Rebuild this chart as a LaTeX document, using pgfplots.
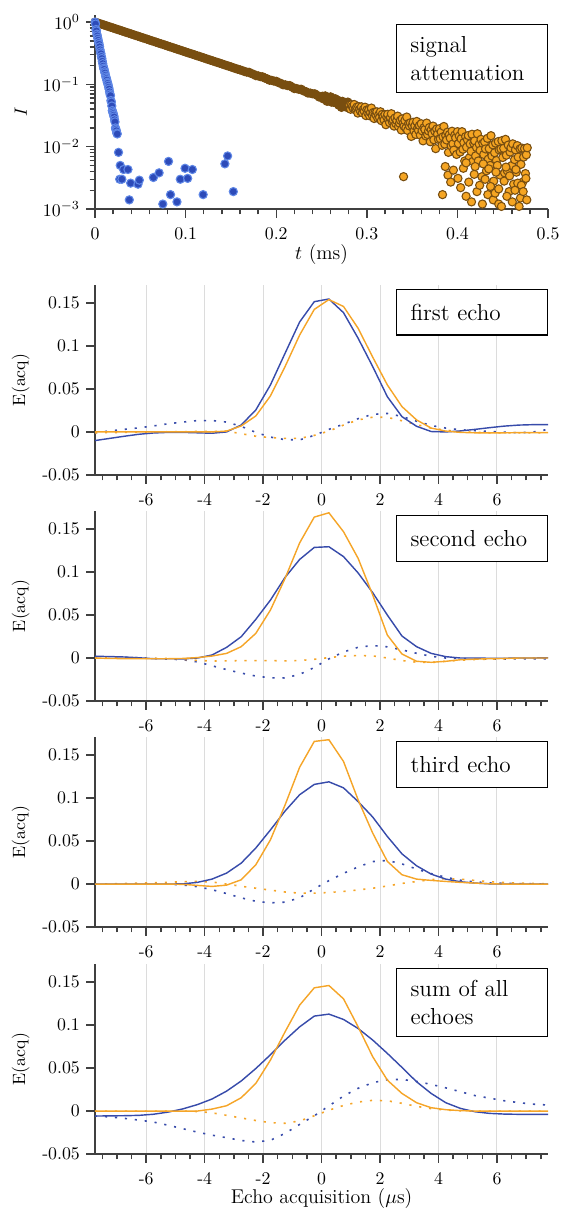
\documentclass[border=0pt]{standalone}
\usepackage{pgfplots}
\pgfplotsset{compat=1.18}
\usepackage{pgfplotstable}

\definecolor{axgray}{RGB}{64,64,64}
\definecolor{gridgray}{RGB}{220,220,220}
\definecolor{lblue}{RGB}{55,75,170}
\definecolor{lorange}{RGB}{245,165,40}
\definecolor{sbluefill}{RGB}{45,75,185}
\definecolor{sblueedge}{RGB}{95,135,230}
\definecolor{sorangefill}{RGB}{245,165,35}
\definecolor{sorangeedge}{RGB}{120,78,16}

\pgfplotstableread{
x B O Bd Od
-7.75 -0.0100 0.0000 -0.0010 -0.0010
-7.25 -0.0075 0.0000 0.0012 -0.0008
-6.75 -0.0050 0.0000 0.0030 -0.0005
-6.25 -0.0027 0.0000 0.0048 -0.0003
-5.75 -0.0012 0.0000 0.0070 0.0000
-5.25 -0.0005 0.0000 0.0095 0.0002
-4.75 -0.0005 0.0000 0.0115 0.0003
-4.25 -0.0010 0.0000 0.0132 0.0005
-3.75 -0.0015 0.0000 0.0133 0.0005
-3.25 0.0000 0.0010 0.0115 0.0010
-2.75 0.0081 0.0070 0.0065 -0.0020
-2.25 0.0256 0.0186 -0.0005 -0.0050
-1.75 0.0547 0.0419 -0.0060 -0.0065
-1.25 0.0915 0.0760 -0.0090 -0.0075
-0.75 0.1280 0.1128 -0.0092 -0.0075
-0.25 0.1516 0.1426 -0.0040 -0.0040
0.25 0.1547 0.1540 0.0030 0.0010
0.75 0.1388 0.1460 0.0090 0.0080
1.25 0.1090 0.1206 0.0155 0.0140
1.75 0.0760 0.0870 0.0205 0.0172
2.25 0.0410 0.0547 0.0215 0.0170
2.75 0.0178 0.0295 0.0180 0.0130
3.25 0.0066 0.0140 0.0125 0.0085
3.75 0.0005 0.0045 0.0075 0.0045
4.25 0.0000 0.0010 0.0045 0.0020
4.75 0.0012 -0.0005 0.0025 0.0005
5.25 0.0030 -0.0010 0.0015 -0.0005
5.75 0.0050 -0.0010 0.0005 -0.0010
6.25 0.0068 -0.0010 -0.0003 -0.0010
6.75 0.0080 -0.0008 -0.0010 -0.0010
7.25 0.0085 -0.0008 0.0000 -0.0010
7.75 0.0085 -0.0008 0.0030 -0.0010
}\firstecho

\pgfplotstableread{
x B O Bd Od
-7.75 0.0020 0.0000 0.0016 0.0000
-7.25 0.0017 -0.0005 0.0012 0.0000
-6.75 0.0012 -0.0007 0.0008 0.0000
-6.25 0.0003 -0.0008 0.0002 -0.0002
-5.75 -0.0008 -0.0008 -0.0005 -0.0003
-5.25 -0.0008 -0.0008 -0.0012 -0.0005
-4.75 -0.0010 -0.0005 -0.0020 -0.0015
-4.25 0.0000 0.0005 -0.0045 -0.0028
-3.75 0.0035 0.0023 -0.0090 -0.0035
-3.25 0.0124 0.0054 -0.0135 -0.0033
-2.75 0.0248 0.0132 -0.0175 -0.0030
-2.25 0.0450 0.0287 -0.0210 -0.0030
-1.75 0.0674 0.0558 -0.0230 -0.0030
-1.25 0.0938 0.0926 -0.0232 -0.0033
-0.75 0.1147 0.1340 -0.0190 -0.0030
-0.25 0.1287 0.1640 -0.0110 -0.0015
0.25 0.1295 0.1690 -0.0010 0.0005
0.75 0.1180 0.1470 0.0070 0.0022
1.25 0.0990 0.1160 0.0125 0.0029
1.75 0.0760 0.0733 0.0145 0.0025
2.25 0.0500 0.0267 0.0130 0.0000
2.75 0.0256 0.0047 0.0095 -0.0030
3.25 0.0132 -0.0038 0.0055 -0.0048
3.75 0.0054 -0.0050 0.0020 -0.0052
4.25 0.0016 -0.0038 0.0000 -0.0038
4.75 0.0000 -0.0020 -0.0005 -0.0025
5.25 0.0000 -0.0013 -0.0010 -0.0018
5.75 -0.0003 -0.0008 -0.0012 -0.0012
6.25 -0.0003 -0.0005 -0.0012 -0.0008
6.75 0.0000 0.0000 -0.0010 -0.0005
7.25 0.0000 0.0000 -0.0010 -0.0003
7.75 0.0003 0.0000 -0.0008 0.0000
}\secondecho

\pgfplotstableread{
x B O Bd Od
-7.75 0.0000 0.0000 0.0000 0.0000
-7.25 0.0000 0.0000 0.0000 0.0004
-6.75 0.0000 0.0000 0.0000 0.0008
-6.25 0.0000 0.0000 0.0000 0.0010
-5.75 0.0000 0.0000 0.0000 0.0015
-5.25 0.0000 0.0000 0.0000 0.0020
-4.75 0.0003 -0.0003 -0.0010 0.0028
-4.25 0.0020 -0.0015 -0.0030 0.0031
-3.75 0.0058 -0.0027 -0.0065 0.0025
-3.25 0.0128 -0.0012 -0.0110 0.0000
-2.75 0.0244 0.0050 -0.0160 -0.0025
-2.25 0.0420 0.0225 -0.0200 -0.0048
-1.75 0.0630 0.0515 -0.0218 -0.0070
-1.25 0.0850 0.0920 -0.0210 -0.0092
-0.75 0.1040 0.1360 -0.0160 -0.0105
-0.25 0.1160 0.1660 -0.0055 -0.0105
0.25 0.1190 0.1680 0.0040 -0.0098
0.75 0.1120 0.1427 0.0125 -0.0085
1.25 0.0960 0.0980 0.0200 -0.0068
1.75 0.0780 0.0593 0.0262 -0.0048
2.25 0.0554 0.0264 0.0275 -0.0022
2.75 0.0352 0.0109 0.0235 0.0008
3.25 0.0213 0.0058 0.0175 0.0030
3.75 0.0116 0.0043 0.0122 0.0052
4.25 0.0058 0.0031 0.0080 0.0062
4.75 0.0027 0.0020 0.0045 0.0058
5.25 0.0012 0.0012 0.0025 0.0042
5.75 0.0003 0.0004 0.0015 0.0028
6.25 0.0000 0.0000 0.0010 0.0018
6.75 0.0000 0.0000 0.0006 0.0012
7.25 0.0000 0.0000 0.0003 0.0008
7.75 0.0000 0.0000 0.0002 0.0005
}\thirdecho

\pgfplotstableread{
x B O Bd Od
-7.75 -0.0058 0.0000 -0.0058 0.0000
-7.25 -0.0056 0.0000 -0.0068 0.0000
-6.75 -0.0054 0.0000 -0.0085 0.0000
-6.25 -0.0050 0.0000 -0.0105 0.0000
-5.75 -0.0037 0.0000 -0.0128 0.0000
-5.25 -0.0012 0.0000 -0.0165 0.0000
-4.75 0.0025 0.0000 -0.0205 0.0000
-4.25 0.0075 0.0000 -0.0245 -0.0005
-3.75 0.0140 0.0023 -0.0280 -0.0020
-3.25 0.0232 0.0062 -0.0310 -0.0050
-2.75 0.0350 0.0155 -0.0342 -0.0080
-2.25 0.0495 0.0322 -0.0360 -0.0110
-1.75 0.0655 0.0593 -0.0340 -0.0135
-1.25 0.0825 0.0922 -0.0260 -0.0142
-0.75 0.0980 0.1233 -0.0155 -0.0115
-0.25 0.1105 0.1434 -0.0055 -0.0055
0.25 0.1128 0.1461 0.0060 0.0010
0.75 0.1066 0.1306 0.0175 0.0065
1.25 0.0961 0.0980 0.0265 0.0105
1.75 0.0826 0.0632 0.0330 0.0125
2.25 0.0671 0.0360 0.0365 0.0120
2.75 0.0508 0.0205 0.0368 0.0090
3.25 0.0341 0.0097 0.0345 0.0055
3.75 0.0205 0.0039 0.0310 0.0028
4.25 0.0097 0.0016 0.0270 0.0012
4.75 0.0031 0.0005 0.0225 0.0004
5.25 -0.0008 0.0000 0.0180 0.0000
5.75 -0.0027 0.0000 0.0150 0.0000
6.25 -0.0035 0.0000 0.0120 0.0000
6.75 -0.0038 0.0000 0.0098 0.0000
7.25 -0.0039 0.0000 0.0080 0.0000
7.75 -0.0039 0.0000 0.0070 0.0000
}\sumecho

\pgfplotsset{
  base/.style={
    scale only axis, width=254.5pt,
    axis lines*=left,
    axis line style={-, draw=axgray, line width=1pt},
    tick style={draw=axgray, line width=0.8pt},
    tick align=outside,
    major tick length=5pt, minor tick length=3pt,
    xticklabel style={yshift=-2pt},
    ylabel style={at={(axis description cs:-0.164,0.5)}, anchor=center},
    xlabel style={font=\fontsize{11.2}{13}\selectfont},
  },
  echo/.style={
    base, height=106.7pt,
    xmin=-7.75, xmax=7.75, ymin=-0.05, ymax=0.171,
    xtick={-6,-4,-2,0,2,4,6}, xticklabels={-6,-4,-2,0,2,4,6},
    minor xtick={-7.5,-7,...,7.5},
    ytick={-0.05,0,0.05,0.1,0.15}, yticklabels={-0.05,0,0.05,0.1,0.15},
    xmajorgrids, major grid style={draw=gridgray, line width=0.6pt},
    ylabel={E(acq)},
  },
  sB/.style={draw=lblue, line width=0.8pt, no marks},
  sO/.style={draw=lorange, line width=0.8pt, no marks},
  dB/.style={draw=lblue, line width=0.9pt, no marks, dash pattern=on 1.2pt off 4.4pt},
  dO/.style={draw=lorange, line width=0.9pt, no marks, dash pattern=on 1.2pt off 4.4pt},
}
\tikzset{
  tag/.style={draw=black, line width=0.8pt, fill=white, anchor=north east,
    font=\fontsize{13}{15.7}\selectfont, align=left, text width=69pt,
    inner xsep=7.9pt, inner ysep=5pt, minimum height=25.8pt},
}

\begin{document}
\begin{tikzpicture}
\useasboundingbox (-53.4pt,-32.0pt) rectangle (261.8pt,648.3pt);

% ---------- signal attenuation ----------
\begin{axis}[base, at={(0pt,530.9pt)}, anchor=south west, height=109pt,
  ymode=log, xmin=0, xmax=0.5, ymin=1e-3, ymax=1.3,
  xtick={0,0.1,0.2,0.3,0.4,0.5},
  xticklabels={0,0.1,0.2,0.3,0.4,0.5},
  minor xtick={0,0.02,...,0.5},
  ytick={1e-3,1e-2,1e-1,1},
  xlabel={$t$ (ms)}, ylabel={$I$},
  xlabel style={at={(axis description cs:0.5,-0.237)}, anchor=center},
  clip mode=individual]
% dense early part of the slow decay: overlapping markers merge into a brown band
\addplot[only marks, mark=*, mark size=2.3pt,
  mark options={fill=sorangeedge, draw=sorangeedge, line width=0.6pt}] table {
t I
0 1.000
0.0025 0.973
0.005 0.946
0.0075 0.920
0.01 0.895
0.0125 0.871
0.015 0.847
0.0175 0.824
0.02 0.802
0.0225 0.780
0.025 0.759
0.0275 0.738
0.03 0.718
0.0325 0.698
0.035 0.679
0.0375 0.661
0.04 0.643
0.0425 0.625
0.045 0.608
0.0475 0.592
0.05 0.575
0.0525 0.560
0.055 0.545
0.0575 0.530
0.06 0.515
0.0625 0.501
0.065 0.488
0.0675 0.474
0.07 0.461
0.0725 0.449
0.075 0.437
0.0775 0.425
0.08 0.413
0.0825 0.402
0.085 0.391
0.0875 0.380
0.09 0.370
0.0925 0.360
0.095 0.350
0.0975 0.340
0.1 0.331
0.1025 0.322
0.105 0.313
0.1075 0.305
0.11 0.297
0.1125 0.288
0.115 0.281
0.1175 0.273
0.12 0.266
0.1225 0.258
0.125 0.251
0.1275 0.244
0.13 0.238
0.1325 0.231
0.135 0.225
0.1375 0.219
0.14 0.213
0.1425 0.207
0.145 0.201
0.1475 0.196
0.15 0.191
0.1525 0.185
0.155 0.180
0.1575 0.175
0.16 0.171
0.1625 0.166
0.165 0.161
0.1675 0.157
0.17 0.156
0.1725 0.149
0.175 0.145
0.1775 0.138
0.18 0.137
0.1825 0.133
0.185 0.132
0.1875 0.126
0.19 0.1225
0.1925 0.1165
0.195 0.1159
0.1975 0.1127
0.2 0.1120
0.2025 0.1067
0.205 0.1038
0.2075 0.0985
0.21 0.0982
0.2125 0.0955
0.215 0.0955
0.2175 0.0904
0.22 0.0855
0.2225 0.0855
0.225 0.0832
0.2275 0.0835
0.23 0.0787
0.2325 0.0766
0.235 0.0725
0.2375 0.0725
0.24 0.0705
0.2425 0.0705
0.245 0.0667
0.2475 0.0625
0.25 0.0631
0.251 0.0645
0.252 0.0584
0.253 0.0618
0.254 0.0653
0.255 0.0586
0.256 0.0535
0.257 0.0615
0.258 0.0591
0.259 0.0552
0.260 0.0630
0.261 0.0518
0.262 0.0555
0.263 0.0573
0.264 0.0511
0.265 0.0589
0.266 0.0523
0.267 0.0508
0.268 0.0556
0.269 0.0463
0.270 0.0515
0.271 0.0520
0.272 0.0427
0.273 0.0534
0.274 0.0482
0.275 0.0508
0.276 0.0447
0.277 0.0480
0.278 0.0426
0.279 0.0519
0.280 0.0440
};
\addplot[only marks, mark=*, mark size=2.3pt,
  mark options={fill=sorangefill, draw=sorangeedge, line width=0.6pt}] table {
t I
0.281 0.0463
0.282 0.0399
0.283 0.0473
0.284 0.0439
0.285 0.0410
0.286 0.0475
0.287 0.0391
0.288 0.0407
0.289 0.0433
0.290 0.0346
0.291 0.0441
0.292 0.0397
0.293 0.0369
0.294 0.0436
0.295 0.0350
0.296 0.0394
0.297 0.0372
0.298 0.0430
0.299 0.0315
0.300 0.0389
0.301 0.0349
0.302 0.0387
0.303 0.0313
0.304 0.0354
0.305 0.0416
0.306 0.0317
0.307 0.0353
0.308 0.0283
0.309 0.0353
0.310 0.0324
0.311 0.0363
0.312 0.0287
0.313 0.0323
0.314 0.0293
0.315 0.0363
0.316 0.0261
0.317 0.0330
0.318 0.0301
0.319 0.0268
0.320 0.0327
0.321 0.0225
0.322 0.0297
0.323 0.0331
0.324 0.0270
0.325 0.0243
0.326 0.0293
0.327 0.0338
0.328 0.0252
0.329 0.0268
0.330 0.0214
0.331 0.0289
0.332 0.0234
0.333 0.0263
0.334 0.0309
0.335 0.0211
0.336 0.0239
0.337 0.0265
0.338 0.0185
0.339 0.0279
0.340 0.0235
0.3405 0.0033
0.341 0.0213
0.342 0.0263
0.343 0.0199
0.344 0.0299
0.345 0.0182
0.346 0.0235
0.347 0.0215
0.348 0.0241
0.349 0.0146
0.350 0.0218
0.351 0.0246
0.352 0.0180
0.353 0.0215
0.354 0.0157
0.355 0.0254
0.356 0.0198
0.357 0.0183
0.358 0.0219
0.359 0.0153
0.360 0.0233
0.361 0.0180
0.362 0.0124
0.363 0.0202
0.364 0.0189
0.365 0.0149
0.366 0.0239
0.367 0.0157
0.368 0.0179
0.369 0.0203
0.370 0.0120
0.371 0.0186
0.372 0.0161
0.373 0.0214
0.374 0.0129
0.375 0.0177
0.376 0.0093
0.377 0.0192
0.378 0.0159
0.379 0.0131
0.380 0.0194
0.381 0.0134
0.382 0.0172
0.383 0.0105
0.3835 0.0017
0.384 0.0144
0.385 0.0211
0.386 0.0110
0.387 0.0151
0.388 0.0128
0.389 0.0171
0.390 0.0081
0.391 0.0156
0.392 0.0137
0.393 0.0103
0.394 0.0177
0.395 0.0111
0.396 0.0088
0.397 0.0153
0.398 0.0138
0.399 0.0075
0.400 0.0174
0.401 0.0112
0.402 0.0148
0.403 0.0082
0.404 0.0134
0.405 0.0174
0.406 0.0091
0.407 0.0116
0.408 0.0059
0.409 0.0145
0.410 0.0098
0.411 0.0129
0.412 0.0151
0.413 0.0066
0.414 0.0111
0.415 0.0084
0.416 0.0158
0.417 0.0058
0.418 0.0113
0.419 0.0124
0.420 0.0071
0.421 0.0097
0.422 0.0161
0.423 0.0059
0.424 0.0110
0.425 0.0087
0.426 0.0131
0.427 0.0033
0.428 0.0113
0.429 0.0075
0.430 0.0119
0.431 0.0092
0.432 0.0041
0.433 0.0136
0.434 0.0063
0.435 0.0093
0.436 0.0050
0.437 0.0150
0.438 0.0071
0.439 0.0107
0.440 0.0028
0.441 0.0080
0.442 0.0114
0.443 0.0060
0.444 0.0050
0.445 0.0121
0.446 0.0089
0.447 0.0035
0.448 0.0092
0.449 0.0125
0.450 0.0067
0.451 0.0094
0.452 0.0038
0.453 0.0131
0.454 0.0073
0.455 0.0041
0.456 0.0106
0.457 0.0019
0.458 0.0082
0.459 0.0096
0.460 0.0050
0.461 0.0111
0.462 0.0025
0.463 0.0062
0.464 0.0089
0.465 0.0039
0.466 0.0104
0.467 0.0068
0.468 0.0011
0.469 0.0092
0.470 0.0052
0.471 0.0095
0.472 0.0027
0.473 0.0068
0.474 0.0093
0.475 0.0037
0.476 0.0074
0.477 0.0096
0.3865 0.0048
0.3895 0.0035
0.3925 0.0027
0.3955 0.0042
0.4005 0.0031
0.4035 0.0022
0.4065 0.0045
0.4095 0.0016
0.4095 0.0055
0.4125 0.0027
0.4155 0.0013
0.4185 0.0036
0.4195 0.0048
0.4215 0.0019
0.4245 0.0024
0.4275 0.0012
0.4285 0.0053
0.4305 0.0030
0.4335 0.0017
0.4345 0.0044
0.4365 0.0023
0.4395 0.0014
0.4415 0.0018
0.4425 0.0039
0.4455 0.0021
0.4455 0.0012
0.4485 0.0011
0.4515 0.0028
0.4535 0.0047
0.4545 0.0016
0.4575 0.0034
0.4605 0.0013
0.4635 0.0020
0.4645 0.0043
0.4665 0.0026
0.4695 0.0015
0.4705 0.0024
0.4725 0.0019
0.4755 0.0031
0.4765 0.0014
};
\addplot[only marks, mark=*, mark size=2.3pt,
  mark options={fill=sbluefill, draw=sblueedge, line width=0.6pt}] table {
t I
0 1.00
0.0005 0.93
0.001 0.76
0.0015 0.72
0.002 0.64
0.0025 0.60
0.003 0.55
0.0035 0.51
0.004 0.47
0.0045 0.44
0.005 0.40
0.0055 0.36
0.006 0.33
0.0065 0.31
0.007 0.28
0.0075 0.26
0.008 0.235
0.0085 0.215
0.009 0.196
0.0095 0.182
0.010 0.174
0.0105 0.160
0.011 0.152
0.0115 0.140
0.012 0.131
0.0125 0.124
0.013 0.117
0.0135 0.108
0.014 0.104
0.0145 0.097
0.015 0.090
0.0155 0.084
0.016 0.076
0.0165 0.070
0.017 0.066
0.0175 0.055
0.018 0.052
0.0185 0.045
0.019 0.038
0.0195 0.036
0.020 0.034
0.0205 0.032
0.021 0.030
0.0215 0.027
0.022 0.025
0.0225 0.020
0.023 0.019
0.0235 0.018
0.024 0.0165
0.0245 0.016
0.0259 0.0081
0.0272 0.0030
0.0278 0.0050
0.0296 0.0030
0.0315 0.0043
0.0363 0.0043
0.0378 0.0014
0.0393 0.0026
0.0474 0.0025
0.0489 0.0029
0.0644 0.0032
0.0707 0.0038
0.0748 0.0012
0.0811 0.0058
0.0833 0.0017
0.0904 0.0013
0.0941 0.0030
0.0993 0.0045
0.1022 0.0031
0.1074 0.0043
0.1193 0.0017
0.1433 0.0053
0.1463 0.0071
0.1526 0.0019
};
\node[tag, yshift=-5pt, minimum height=38.2pt] at (rel axis cs:1,1) {signal\\attenuation};
\end{axis}

% ---------- first echo ----------
\begin{axis}[echo, at={(0pt,381.5pt)}, anchor=south west]
\addplot[dB] table[x=x,y=Bd] {\firstecho};
\addplot[dO] table[x=x,y=Od] {\firstecho};
\addplot[sB] table[x=x,y=B] {\firstecho};
\addplot[sO] table[x=x,y=O] {\firstecho};
\node[tag, yshift=-2pt] at (rel axis cs:1,1) {first echo};
\end{axis}

% ---------- second echo ----------
\begin{axis}[echo, at={(0pt,254.5pt)}, anchor=south west]
\addplot[dB] table[x=x,y=Bd] {\secondecho};
\addplot[dO] table[x=x,y=Od] {\secondecho};
\addplot[sB] table[x=x,y=B] {\secondecho};
\addplot[sO] table[x=x,y=O] {\secondecho};
\node[tag, yshift=-2pt] at (rel axis cs:1,1) {second echo};
\end{axis}

% ---------- third echo ----------
\begin{axis}[echo, at={(0pt,127.5pt)}, anchor=south west]
\addplot[dB] table[x=x,y=Bd] {\thirdecho};
\addplot[dO] table[x=x,y=Od] {\thirdecho};
\addplot[sB] table[x=x,y=B] {\thirdecho};
\addplot[sO] table[x=x,y=O] {\thirdecho};
\node[tag, yshift=-2pt] at (rel axis cs:1,1) {third echo};
\end{axis}

% ---------- sum of all echoes ----------
\begin{axis}[echo, at={(0pt,0pt)}, anchor=south west,
  xlabel={Echo acquisition ($\mu$s)},
  xlabel style={at={(axis description cs:0.5,-0.232)}, anchor=center}]
\addplot[dB] table[x=x,y=Bd] {\sumecho};
\addplot[dO] table[x=x,y=Od] {\sumecho};
\addplot[sB] table[x=x,y=B] {\sumecho};
\addplot[sO] table[x=x,y=O] {\sumecho};
\node[tag, yshift=-2pt, minimum height=38.2pt] at (rel axis cs:1,1) {sum of all\\echoes};
\end{axis}
\end{tikzpicture}
\end{document}
